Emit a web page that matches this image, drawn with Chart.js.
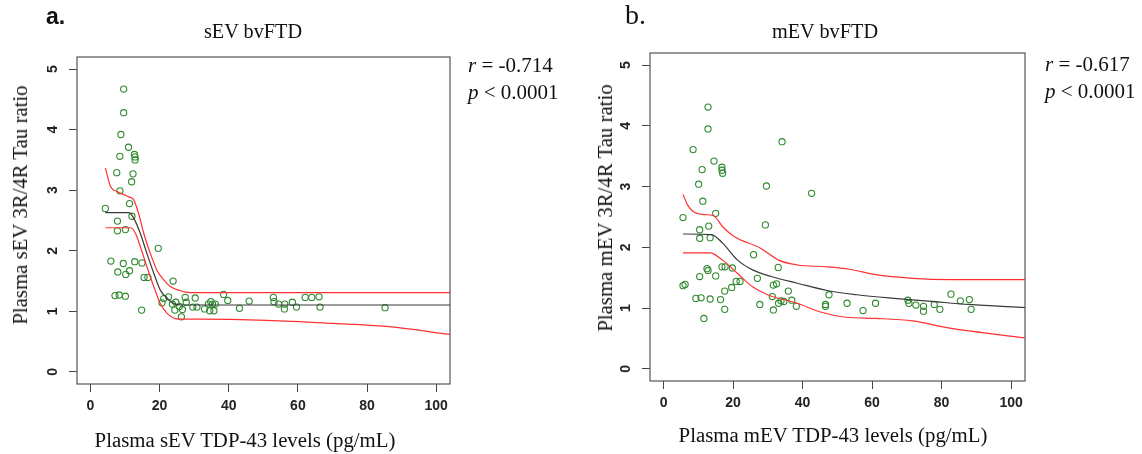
<!DOCTYPE html>
<html>
<head>
<meta charset="utf-8">
<script src="https://cdn.jsdelivr.net/npm/chart.js@4.4.1/dist/chart.umd.min.js"></script>
<style>
  body { margin: 0; background: #fff; }
  #wrap { position: relative; width: 1142px; height: 454px; overflow: hidden; background: #fff; }
  canvas { position: absolute; top: 0; }
  .txt { position: absolute; white-space: nowrap; color: #111; font-family: "Liberation Serif", "Times New Roman", serif; }
  .c { transform: translate(-50%, -50%); }
  .rot { transform: translate(-50%, -50%) rotate(-90deg); }
  .stat { font-size: 21px; transform: translate(0, -50%); }
</style>
</head>
<body>
<div id="wrap">
  <canvas id="chartA" width="560" height="454" style="left:0px"></canvas>
  <canvas id="chartB" width="569" height="454" style="left:573px"></canvas>

  <div class="txt" style="left:46px; top:3px; font-family:'Liberation Sans',Arial,sans-serif; font-weight:bold; font-size:23px;">a.</div>
  <div class="txt c" style="left:253px; top:31px; font-size:20.3px;">sEV bvFTD</div>
  <div class="txt rot" style="left:20px; top:205px; font-size:20.8px;">Plasma sEV 3R/4R Tau ratio</div>
  <div class="txt c" style="left:245px; top:440px; font-size:20.8px;">Plasma sEV TDP-43 levels (pg/mL)</div>
  <div class="txt stat" style="left:468px; top:65px;"><i>r</i> = -0.714</div>
  <div class="txt stat" style="left:468px; top:92px;"><i>p</i> &lt; 0.0001</div>

  <div class="txt" style="left:625px; top:-1px; font-size:28px;">b.</div>
  <div class="txt c" style="left:825px; top:31px; font-size:20.3px;">mEV bvFTD</div>
  <div class="txt rot" style="left:605px; top:208px; font-size:20.8px;">Plasma mEV 3R/4R Tau ratio</div>
  <div class="txt c" style="left:833px; top:435px; font-size:20.8px;">Plasma mEV TDP-43 levels (pg/mL)</div>
  <div class="txt stat" style="left:1045px; top:64px;"><i>r</i> = -0.617</div>
  <div class="txt stat" style="left:1045px; top:91px;"><i>p</i> &lt; 0.0001</div>
</div>

<script>
// axis ticks shared by both panels
const xTicks = [0, 20, 40, 60, 80, 100];
const yTicks = [0, 1, 2, 3, 4, 5];

// panel a: sEV
const sevX = [4.3, 9.6, 9.6, 8.8, 11.0, 8.5, 12.7, 12.9, 12.9, 7.6, 12.3, 11.9, 8.5, 11.3, 12.0, 7.8, 7.8, 10.1, 19.6, 5.9,
  9.5, 12.8, 14.9, 7.9, 10.2, 11.3, 15.5, 16.6, 7.1, 8.3, 10.1, 14.8, 23.9, 20.7, 21.2, 22.6, 23.7, 24.7, 24.4, 25.7,
  26.3, 26.6, 27.4, 27.7, 29.6, 30.3, 30.8, 33.0, 34.1, 34.8, 34.5, 35.3, 35.7, 36.1, 38.5, 39.7, 43.1, 45.9, 52.9, 53.1,
  54.4, 56.2, 56.1, 58.4, 59.6, 62.1, 64.0, 66.1, 66.4, 85.2];
const sevY = [2.70, 4.67, 4.28, 3.92, 3.71, 3.56, 3.59, 3.55, 3.50, 3.29, 3.27, 3.14, 2.99, 2.78, 2.57, 2.49, 2.33, 2.35, 2.04, 1.83,
  1.79, 1.82, 1.80, 1.65, 1.61, 1.67, 1.56, 1.56, 1.26, 1.27, 1.25, 1.02, 1.50, 1.14, 1.21, 1.24, 1.12, 1.15, 1.02, 1.08,
  0.91, 1.03, 1.23, 1.15, 1.07, 1.22, 1.07, 1.04, 1.12, 1.16, 1.01, 1.12, 1.01, 1.12, 1.28, 1.18, 1.05, 1.17, 1.23, 1.16,
  1.12, 1.12, 1.04, 1.15, 1.07, 1.23, 1.23, 1.24, 1.07, 1.06];
const sevFitX = [4.3, 11.1, 12.5, 14.4, 16.3, 18.3, 20.2, 22.1, 24.0, 26.4, 104];
const sevFitY = [2.63, 2.63, 2.54, 2.29, 1.96, 1.63, 1.35, 1.22, 1.13, 1.105, 1.105];
const sevUpX = [4.3, 5.8, 7.7, 11.1, 12.5, 13.9, 15.4, 17.3, 19.2, 21.2, 23.1, 26.0, 28.8, 104];
const sevUpY = [3.37, 3.06, 2.98, 2.89, 2.84, 2.62, 2.29, 1.96, 1.68, 1.52, 1.41, 1.34, 1.31, 1.31];
const sevLoX = [4.3, 11.5, 13.0, 14.4, 16.3, 18.3, 20.2, 22.1, 24.0, 26.0, 31.7, 51.0, 70.2, 85.6, 104];
const sevLoY = [2.38, 2.38, 2.29, 2.07, 1.74, 1.41, 1.13, 0.97, 0.89, 0.87, 0.87, 0.85, 0.80, 0.75, 0.62];

// panel b: mEV
const mevX = [12.8, 12.8, 34.1, 8.5, 14.5, 16.8, 16.8, 17.0, 11.1, 10.1, 29.6, 42.6, 11.3, 15.0, 5.6, 29.3, 13.0, 10.4, 10.4, 13.4,
  25.9, 33.0, 12.5, 12.8, 16.8, 17.7, 19.8, 10.4, 15.0, 5.6, 6.2, 19.6, 20.9, 22.0, 27.0, 17.6, 31.6, 32.5, 9.3, 10.8,
  13.4, 16.4, 35.9, 31.3, 36.9, 33.8, 33.1, 34.6, 38.2, 31.6, 27.7, 17.6, 11.6, 47.6, 46.6, 46.6, 52.8, 57.4, 61.0, 70.3,
  70.6, 72.6, 74.8, 74.8, 77.9, 79.5, 82.7, 85.4, 88.0, 88.5];
const mevY = [4.31, 3.95, 3.74, 3.61, 3.42, 3.32, 3.27, 3.22, 3.28, 3.04, 3.01, 2.89, 2.76, 2.56, 2.49, 2.37, 2.35, 2.29, 2.15, 2.16,
  1.88, 1.67, 1.65, 1.62, 1.68, 1.68, 1.66, 1.52, 1.53, 1.37, 1.39, 1.34, 1.44, 1.44, 1.49, 1.28, 1.38, 1.40, 1.16, 1.17,
  1.15, 1.14, 1.28, 1.19, 1.13, 1.12, 1.08, 1.11, 1.03, 0.97, 1.06, 0.98, 0.83, 1.22, 1.06, 1.03, 1.08, 0.96, 1.08, 1.13,
  1.08, 1.05, 1.03, 0.95, 1.06, 0.98, 1.23, 1.12, 1.14, 0.98];
const mevFitX = [5.6, 13.8, 17.0, 21.3, 25.6, 31.0, 38.5, 47.1, 55.6, 66.3, 77.1, 87.8, 104];
const mevFitY = [2.22, 2.21, 2.07, 1.79, 1.63, 1.52, 1.41, 1.29, 1.22, 1.16, 1.11, 1.06, 1.01];
const mevUpX = [5.6, 6.9, 8.5, 11.7, 14.4, 17.0, 20.3, 27.8, 33.1, 38.5, 47.1, 53.5, 61.0, 71.7, 82.4, 104];
const mevUpY = [2.87, 2.70, 2.59, 2.54, 2.52, 2.34, 2.18, 1.99, 1.79, 1.71, 1.68, 1.64, 1.55, 1.49, 1.47, 1.47];
const mevLoX = [5.6, 13.3, 17.0, 21.3, 25.6, 29.9, 38.5, 44.9, 52.4, 61.0, 71.7, 82.4, 104];
const mevLoY = [1.91, 1.91, 1.79, 1.57, 1.35, 1.22, 1.08, 0.94, 0.85, 0.83, 0.79, 0.67, 0.51];

const toXY = (xs, ys) => xs.map((x, i) => ({ x: x, y: ys[i] }));

// R-style box around the plot region
const boxPlugin = {
  id: 'box',
  beforeDatasetsDraw(chart) {
    const { ctx, chartArea: a } = chart;
    ctx.save();
    ctx.strokeStyle = '#555';
    ctx.lineWidth = 1.2;
    ctx.strokeRect(a.left, a.top, a.right - a.left, a.bottom - a.top);
    ctx.restore();
  }
};

function curve(xs, ys, color) {
  return {
    data: toXY(xs, ys),
    showLine: true,
    pointRadius: 0,
    borderColor: color,
    borderWidth: 1.2,
    cubicInterpolationMode: 'monotone',
    fill: false
  };
}

function makePanel(id, px, py, fit, up, lo, pad, xAxisH) {
  const tickFont = { family: "'Liberation Sans', Arial, sans-serif", weight: 'bold', size: 14 };
  const grid = { display: true, drawOnChartArea: false, drawTicks: true, tickLength: 8, color: '#444', lineWidth: 1 };
  return new Chart(document.getElementById(id), {
    type: 'scatter',
    data: {
      datasets: [
        curve(fit[0], fit[1], '#3a3a3a'),
        curve(up[0], up[1], '#ff3030'),
        curve(lo[0], lo[1], '#ff3030'),
        {
          data: toXY(px, py),
          pointStyle: 'circle',
          pointRadius: 3.1,
          pointBorderWidth: 1.1,
          pointBackgroundColor: 'rgba(0,0,0,0)',
          pointBorderColor: '#2f8a2f',
          showLine: false
        }
      ]
    },
    options: {
      responsive: false,
      animation: false,
      layout: { padding: { top: pad.top, right: pad.right, left: 0, bottom: 0 } },
      plugins: { legend: { display: false }, tooltip: { enabled: false } },
      scales: {
        x: {
          type: 'linear',
          min: -3.9,
          max: 104,
          afterBuildTicks: s => { s.ticks = xTicks.map(v => ({ value: v })); },
          afterFit: s => { s.height = xAxisH; },
          grid: grid,
          border: { display: false },
          ticks: { font: tickFont, color: '#222', padding: 6, maxRotation: 0, minRotation: 0 }
        },
        y: {
          type: 'linear',
          min: -0.2,
          max: 5.2,
          afterBuildTicks: s => { s.ticks = yTicks.map(v => ({ value: v })); },
          afterFit: s => { s.width = 77; },
          grid: grid,
          border: { display: false },
          ticks: { font: tickFont, color: '#222', padding: 12, minRotation: 90, maxRotation: 90, crossAlign: 'center' }
        }
      }
    },
    plugins: [boxPlugin]
  });
}

makePanel('chartA', sevX, sevY, [sevFitX, sevFitY], [sevUpX, sevUpY], [sevLoX, sevLoY], { top: 57, right: 110 }, 70);
makePanel('chartB', mevX, mevY, [mevFitX, mevFitY], [mevUpX, mevUpY], [mevLoX, mevLoY], { top: 53, right: 117 }, 73);
</script>
</body>
</html>
